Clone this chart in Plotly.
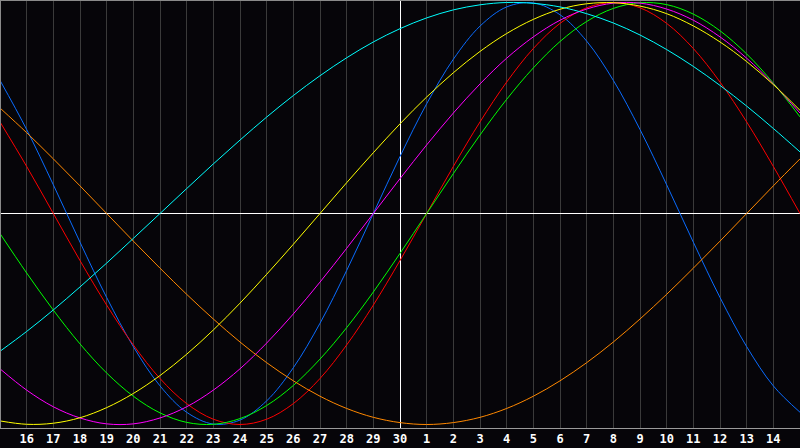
import plotly.graph_objects as go

# day index offset from the centre line (day 30)
day_offsets = list(range(-15, 16))
tick_offsets = list(range(-14, 15))
tick_labels = ["16", "17", "18", "19", "20", "21", "22", "23", "24", "25", "26", "27", "28", "29", "30",
               "1", "2", "3", "4", "5", "6", "7", "8", "9", "10", "11", "12", "13", "14"]

# daily values (one value per grid day, -1..1)
physical = [0.631, 0.398, 0.136, -0.136, -0.398, -0.631, -0.817, -0.942, -0.998, -0.979, -0.888, -0.731,
            -0.520, -0.270, 0.000, 0.270, 0.520, 0.731, 0.888, 0.979, 0.998, 0.942, 0.817, 0.631, 0.398,
            0.136, -0.136, -0.398, -0.631, -0.817, -0.942]
emotional = [0.434, 0.223, 0.000, -0.223, -0.434, -0.623, -0.782, -0.901, -0.975, -1.000, -0.975, -0.901,
             -0.782, -0.623, -0.434, -0.223, 0.000, 0.223, 0.434, 0.623, 0.782, 0.901, 0.975, 1.000, 0.975,
             0.901, 0.782, 0.623, 0.434, 0.223, 0.000]
intellectual = [-0.095, -0.282, -0.458, -0.618, -0.756, -0.866, -0.945, -0.990, -0.999, -0.972, -0.910,
                -0.815, -0.690, -0.541, -0.372, -0.189, 0.000, 0.189, 0.372, 0.541, 0.690, 0.815, 0.910,
                0.972, 0.999, 0.990, 0.945, 0.866, 0.756, 0.618, 0.458]
intuitive = [-0.736, -0.837, -0.916, -0.969, -0.997, -0.997, -0.969, -0.916, -0.837, -0.736, -0.614, -0.476,
             -0.325, -0.165, 0.000, 0.165, 0.325, 0.476, 0.614, 0.736, 0.837, 0.916, 0.969, 0.997, 0.997,
             0.969, 0.916, 0.837, 0.736, 0.614, 0.476]
aesthetic = [-0.983, -0.999, -0.994, -0.968, -0.920, -0.853, -0.768, -0.667, -0.552, -0.425, -0.288, -0.146,
             0.000, 0.146, 0.288, 0.425, 0.552, 0.667, 0.768, 0.853, 0.920, 0.968, 0.994, 0.999, 0.983,
             0.947, 0.889, 0.813, 0.720, 0.611, 0.489]
awareness = [0.500, 0.383, 0.259, 0.131, 0.000, -0.131, -0.259, -0.383, -0.500, -0.609, -0.707, -0.793,
             -0.866, -0.924, -0.966, -0.991, -1.000, -0.991, -0.966, -0.924, -0.866, -0.793, -0.707, -0.609,
             -0.500, -0.383, -0.259, -0.131, 0.000, 0.131, 0.259]
spiritual = [-0.653, -0.559, -0.457, -0.348, -0.235, -0.118, 0.000, 0.118, 0.235, 0.348, 0.457, 0.559,
             0.653, 0.738, 0.813, 0.876, 0.927, 0.965, 0.989, 1.000, 0.996, 0.979, 0.947, 0.903, 0.846,
             0.777, 0.697, 0.607, 0.509, 0.403, 0.292]

series = [
    ("Physical", physical, "#0a6cff"),
    ("Emotional", emotional, "#ff0000"),
    ("Intellectual", intellectual, "#00ff00"),
    ("Intuitive", intuitive, "#ff00ff"),
    ("Aesthetic", aesthetic, "#ffff00"),
    ("Awareness", awareness, "#ff8800"),
    ("Spiritual", spiritual, "#00ffff"),
]

bg = "#060509"
fig = go.Figure()
for name, vals, col in series:
    fig.add_trace(go.Scatter(x=day_offsets, y=vals, mode="lines", name=name,
                             line=dict(color=col, width=1, shape="spline", smoothing=1.0),
                             hoverinfo="skip"))

fig.update_layout(
    width=800, height=448,
    margin=dict(l=0, r=0, t=0, b=20),
    paper_bgcolor=bg, plot_bgcolor=bg,
    showlegend=False,
    xaxis=dict(range=[-15, 15], tickvals=tick_offsets, ticktext=tick_labels,
               showgrid=True, gridcolor="#3a3a3a", gridwidth=1,
               zeroline=True, zerolinecolor="#ffffff", zerolinewidth=1,
               showline=True, linecolor="#9a9a9a", linewidth=1,
               ticks="", tickfont=dict(family="DejaVu Sans Mono", size=12, color="#ffffff", weight="bold"),
               fixedrange=True),
    yaxis=dict(range=[-1.01659, 1.01185], showgrid=False, showticklabels=False,
               zeroline=True, zerolinecolor="#ffffff", zerolinewidth=1,
               showline=False, ticks="", fixedrange=True),
    shapes=[
        dict(type="line", xref="paper", yref="paper", x0=0, x1=1, y0=1, y1=1,
             line=dict(color="#8a8a8a", width=2), layer="above"),
        dict(type="line", xref="paper", yref="paper", x0=0, x1=0, y0=0, y1=1,
             line=dict(color="#8a8a8a", width=2), layer="above"),
    ],
)

fig.write_html("out.html", config={"displayModeBar": False},
               post_script="document.body.style.margin='0';document.body.style.background='#060509';")
